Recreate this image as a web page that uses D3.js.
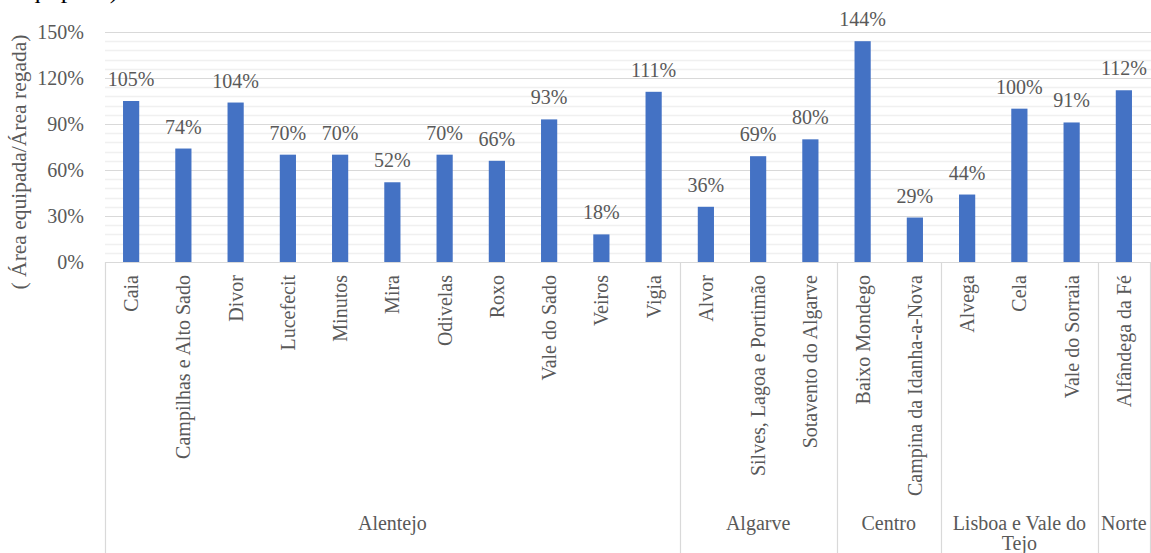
<!DOCTYPE html>
<html>
<head>
<meta charset="utf-8">
<script src="https://cdn.jsdelivr.net/npm/d3@7"></script>
<style>
  html, body { margin: 0; padding: 0; background: #fff; overflow: hidden; }
  svg { display: block; font-family: "Liberation Serif", "Times New Roman", serif; }
</style>
</head>
<body>
<svg id="chart" width="1151" height="553"></svg>
<script>
// Irrigation schemes (perímetros de rega) and their region
const schemes = [
  "Caia", "Campilhas e Alto Sado", "Divor", "Lucefecit", "Minutos", "Mira",
  "Odivelas", "Roxo", "Vale do Sado", "Veiros", "Vigia",
  "Alvor", "Silves, Lagoa e Portimão", "Sotavento do Algarve",
  "Baixo Mondego", "Campina da Idanha-a-Nova",
  "Alvega", "Cela", "Vale do Sorraia",
  "Alfândega da Fé"
];
// Ratio equipped area / irrigated area, in %
const ratios = [105, 74, 104, 70, 70, 52, 70, 66, 93, 18, 111, 36, 69, 80, 144, 29, 44, 100, 91, 112];
const regions = ["Alentejo", "Algarve", "Centro", "Lisboa e Vale do Tejo", "Norte"];
const regionSizes = [11, 3, 2, 3, 1];
const yTicks = [0, 30, 60, 90, 120, 150];
const yMinorStep = 6;
const yTitle = "( Área equipada/Área regada)";

const svg = d3.select("#chart");
const W = 1151, H = 553;
const plot = { left: 105, right: 1150, top: 32, bottom: 262 };
const grey = "#595959";
const fontSize = 20;

const x = d3.scaleBand()
  .domain(schemes)
  .range([plot.left, plot.right])
  .paddingInner(0.69)
  .paddingOuter(0.345);

const y = d3.scaleLinear().domain([0, 150]).range([plot.bottom, plot.top]);

// heading line above the chart, running off the top edge
svg.append("text")
  .attr("x", 16).attr("y", -2.5)
  .attr("font-size", 26).attr("fill", "#000")
  .text("equipada)");

// minor gridlines
const minor = d3.range(0, 150 + 0.001, yMinorStep).filter(v => v % 30 !== 0);
svg.append("g").selectAll("line").data(minor).join("line")
  .attr("x1", plot.left).attr("x2", W)
  .attr("y1", d => Math.round(y(d)) + 0.5).attr("y2", d => Math.round(y(d)) + 0.5)
  .attr("stroke", "#f0f0f0").attr("stroke-width", 1.5);

// major gridlines
svg.append("g").selectAll("line").data(yTicks.filter(v => v > 0)).join("line")
  .attr("x1", plot.left).attr("x2", W)
  .attr("y1", d => Math.round(y(d)) + 0.5).attr("y2", d => Math.round(y(d)) + 0.5)
  .attr("stroke", "#d9d9d9").attr("stroke-width", 1.2);

// y axis labels
const yAxis = d3.axisLeft(y).tickValues(yTicks).tickFormat(d => d + "%").tickSize(0).tickPadding(21);
const gy = svg.append("g").attr("transform", `translate(${plot.left},0)`).call(yAxis);
gy.select(".domain").remove();
gy.selectAll("text")
  .attr("font-family", "Liberation Serif, Times New Roman, serif")
  .attr("font-size", fontSize).attr("fill", grey);

// y axis title
svg.append("text")
  .attr("transform", `translate(19,162) rotate(-90)`)
  .attr("text-anchor", "middle").attr("dominant-baseline", "central")
  .attr("font-size", 21.5).attr("fill", grey)
  .text(yTitle);

// bars
const data = schemes.map((s, i) => ({ name: s, value: ratios[i] }));
svg.append("g").selectAll("rect").data(data).join("rect")
  .attr("x", d => x(d.name))
  .attr("width", x.bandwidth())
  .attr("y", d => y(d.value))
  .attr("height", d => y(0) - y(d.value))
  .attr("fill", "#4472c4");

// value labels
svg.append("g").selectAll("text").data(data).join("text")
  .attr("x", d => x(d.name) + x.bandwidth() / 2)
  .attr("y", d => y(d.value) - 15)
  .attr("text-anchor", "middle")
  .attr("font-size", fontSize).attr("fill", grey)
  .text(d => d.value + "%");

// category axis line
svg.append("line")
  .attr("x1", plot.left).attr("x2", plot.right)
  .attr("y1", plot.bottom + 0.5).attr("y2", plot.bottom + 0.5)
  .attr("stroke", "#d9d9d9").attr("stroke-width", 1.2);

// scheme labels, rotated
svg.append("g").selectAll("text").data(schemes).join("text")
  .attr("transform", d => `translate(${x(d) + x.bandwidth() / 2},${plot.bottom + 13}) rotate(-90)`)
  .attr("text-anchor", "end").attr("dominant-baseline", "central")
  .attr("font-size", fontSize).attr("fill", grey)
  .text(d => d);

// region separators and labels
const step = x.step();
let start = 0;
const bounds = [0];
regionSizes.forEach(n => { start += n; bounds.push(start); });
svg.append("g").selectAll("line").data(bounds).join("line")
  .attr("x1", i => Math.round(plot.left + i * step) + 0.5)
  .attr("x2", i => Math.round(plot.left + i * step) + 0.5)
  .attr("y1", plot.bottom).attr("y2", H)
  .attr("stroke", "#d9d9d9").attr("stroke-width", 1.2);

const rl = svg.append("g").selectAll("text").data(regions).join("text")
  .attr("text-anchor", "middle")
  .attr("font-size", fontSize).attr("fill", grey);
rl.each(function (d, i) {
  const cx = plot.left + (bounds[i] + bounds[i + 1]) / 2 * step;
  const lines = d === "Lisboa e Vale do Tejo" ? ["Lisboa e Vale do", "Tejo"] : [d];
  d3.select(this).selectAll("tspan").data(lines).join("tspan")
    .attr("x", cx).attr("y", (l, j) => 530 + j * 20)
    .text(l => l);
});
</script>
</body>
</html>
